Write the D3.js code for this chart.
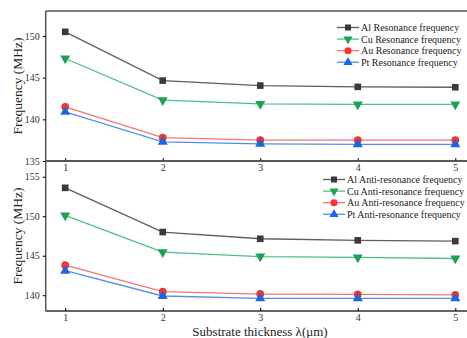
<!DOCTYPE html>
<html>
<head>
<meta charset="utf-8">
<script src="https://d3js.org/d3.v7.min.js"></script>
<style>
  body { margin: 0; background: #fff; }
  text { font-family: "Liberation Serif", "DejaVu Serif", serif; }
</style>
</head>
<body>
<script>
// thickness in wavelengths
var thickness = [1, 2, 3, 4, 5];

// resonance frequency (MHz)
var alRes = [150.5, 144.65, 144.05, 143.9, 143.85];
var cuRes = [147.3, 142.3, 141.85, 141.8, 141.8];
var auRes = [141.5, 137.8, 137.5, 137.5, 137.5];
var ptRes = [140.9, 137.3, 137.05, 137.0, 137.0];

// anti-resonance frequency (MHz)
var alAnti = [153.6, 148.0, 147.15, 146.95, 146.85];
var cuAnti = [150.1, 145.45, 144.9, 144.8, 144.65];
var auAnti = [143.8, 140.45, 140.15, 140.1, 140.05];
var ptAnti = [143.1, 139.9, 139.6, 139.6, 139.6];

var resTicks = [135, 140, 145, 150];
var antiTicks = [140, 145, 150, 155];

var metals = ["Al", "Cu", "Au", "Pt"];
var lineCol = {Al: "#5e5e5e", Cu: "#4fbf80", Au: "#f27575", Pt: "#5090ea"};
var markCol = {Al: "#3a3a3a", Cu: "#20a055", Au: "#f03535", Pt: "#1f66dd"};
var shapes = {Al: d3.symbolSquare, Cu: d3.symbolTriangle, Au: d3.symbolCircle, Pt: d3.symbolTriangle};

var width = 467, height = 338;
var svg = d3.select("body").append("svg")
    .attr("width", width)
    .attr("height", height);

var x = d3.scaleLinear().domain([0.8, 5.12]).range([45.7, 467]);

function panel(top, bottom, domain, ticks, series, label, legendX, legendY) {
  var y = d3.scaleLinear().domain(domain).range([bottom, top]);
  var g = svg.append("g");

  // lines + markers
  metals.forEach(function(m, i) {
    var vals = series[i];
    var line = d3.line()
        .x(function(d, j) { return x(thickness[j]); })
        .y(function(d) { return y(d); });
    g.append("path")
        .datum(vals)
        .attr("fill", "none")
        .attr("stroke", lineCol[m])
        .attr("stroke-width", 1.3)
        .attr("d", line);
    g.selectAll(".pt" + m)
      .data(vals)
      .enter().append("path")
        .attr("d", d3.symbol().type(shapes[m]).size(m == "Au" ? 48 : 44))
        .attr("fill", markCol[m])
        .attr("transform", function(d, j) {
          return "translate(" + x(thickness[j]) + "," + y(d) + ")" + (m == "Cu" ? " rotate(180)" : "");
        });
  });

  // top border
  g.append("line").attr("x1", 45.7).attr("x2", width).attr("y1", top).attr("y2", top)
      .attr("stroke", "#555").attr("stroke-width", 1.5);

  var yAxis = g.append("g")
      .attr("transform", "translate(45.7,0)")
      .call(d3.axisLeft(y).tickValues(ticks).tickSize(3).tickPadding(3));
  yAxis.select(".domain").attr("stroke", "#555").attr("stroke-width", 1.5)
      .attr("d", "M0," + top + "V" + bottom);
  yAxis.selectAll("text").attr("font-size", 10).attr("fill", "#333")
      .style("font-family", "Liberation Serif, serif");

  var xAxis = g.append("g")
      .attr("transform", "translate(0," + bottom + ")")
      .call(d3.axisBottom(x).tickValues(thickness).tickSize(-3).tickPadding(3).tickFormat(d3.format("d")));
  xAxis.select(".domain").attr("stroke", "#666").attr("stroke-width", 2)
      .attr("d", "M45.7,0H" + width);
  xAxis.selectAll("text").attr("font-size", 10).attr("fill", "#333")
      .style("font-family", "Liberation Serif, serif");

  // y label
  svg.append("text")
      .attr("transform", "translate(22," + ((top + bottom) / 2) + ") rotate(-90)")
      .attr("text-anchor", "middle")
      .attr("font-size", 13.5)
      .attr("fill", "#222")
      .text("Frequency (MHz)");

  // legend
  var lg = svg.append("g").attr("transform", "translate(" + legendX + "," + legendY + ")");
  metals.forEach(function(m, i) {
    var r = lg.append("g").attr("transform", "translate(0," + (i * 11.6) + ")");
    r.append("line").attr("x1", 0).attr("x2", 22).attr("y1", 0).attr("y2", 0)
        .attr("stroke", lineCol[m]).attr("stroke-width", 1.3);
    r.append("path")
        .attr("d", d3.symbol().type(shapes[m]).size(m == "Au" ? 40 : 36))
        .attr("fill", markCol[m])
        .attr("transform", "translate(11,0)" + (m == "Cu" ? " rotate(180)" : ""));
    r.append("text")
        .attr("x", 24)
        .attr("y", 3.5)
        .attr("font-size", 10)
        .attr("fill", "#222")
        .text(m + " " + label);
  });
}

panel(11, 161, [135, 153], resTicks, [alRes, cuRes, auRes, ptRes], "Resonance frequency", 337, 27.5);
panel(161, 311, [138, 157], antiTicks, [alAnti, cuAnti, auAnti, ptAnti], "Anti-resonance frequency", 323, 179.5);

svg.append("text")
    .attr("x", 260)
    .attr("y", 336)
    .attr("text-anchor", "middle")
    .attr("font-size", 13)
    .attr("fill", "#222")
    .text("Substrate thickness λ(μm)");
</script>
</body>
</html>
